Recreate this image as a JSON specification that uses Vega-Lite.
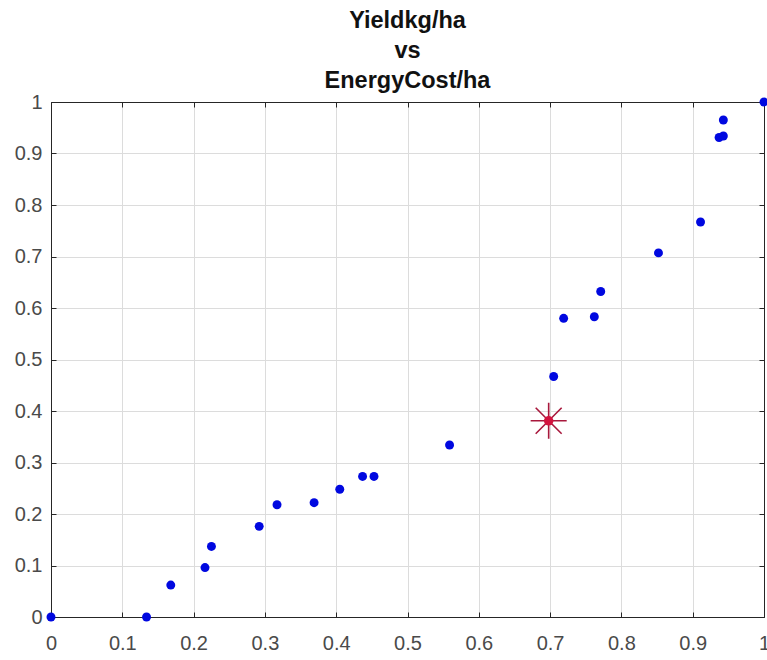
{
  "$schema": "https://vega.github.io/schema/vega-lite/v6.json",
  "width": 713,
  "height": 515,
  "autosize": {"type": "none"},
  "padding": {"left": 51, "top": 102, "right": 3, "bottom": 43},
  "background": "white",
  "title": {
    "text": ["Yieldkg/ha", "vs", "EnergyCost/ha"],
    "font": "Liberation Sans",
    "fontSize": 23.5,
    "fontWeight": "bold",
    "color": "#111111",
    "lineHeight": 30,
    "anchor": "middle",
    "offset": 0
  },
  "config": {
    "view": {"stroke": "#262626", "strokeWidth": 1},
    "axis": {
      "grid": true,
      "gridColor": "#dcdcdc",
      "gridWidth": 1,
      "domainColor": "#262626",
      "tickColor": "#262626",
      "tickSize": -5,
      "labelFont": "Liberation Sans",
      "labelFontSize": 20,
      "labelColor": "#4a4a4a",
      "labelFlush": false,
      "labelExpr": "format(datum.value, '~g')",
      "title": null
    }
  },
  "datasets": {
    "pts": [
      {"cost": 0.0, "yield": 0.0},
      {"cost": 0.134, "yield": 0.0},
      {"cost": 0.168, "yield": 0.062},
      {"cost": 0.216, "yield": 0.096},
      {"cost": 0.225, "yield": 0.137},
      {"cost": 0.292, "yield": 0.176},
      {"cost": 0.317, "yield": 0.218},
      {"cost": 0.369, "yield": 0.222},
      {"cost": 0.405, "yield": 0.248},
      {"cost": 0.437, "yield": 0.273},
      {"cost": 0.453, "yield": 0.273},
      {"cost": 0.559, "yield": 0.334},
      {"cost": 0.705, "yield": 0.467},
      {"cost": 0.719, "yield": 0.580},
      {"cost": 0.762, "yield": 0.583},
      {"cost": 0.771, "yield": 0.632},
      {"cost": 0.852, "yield": 0.707},
      {"cost": 0.911, "yield": 0.767},
      {"cost": 0.937, "yield": 0.931},
      {"cost": 0.943, "yield": 0.934},
      {"cost": 0.943, "yield": 0.965},
      {"cost": 1.0, "yield": 1.0}
    ],
    "star": [
      {"cost": 0.698, "yield": 0.381}
    ]
  },
  "layer": [
    {
      "data": {"name": "pts"},
      "mark": {"type": "point", "filled": true, "shape": "circle", "size": 80, "color": "#0008e0", "opacity": 1, "clip": false},
      "encoding": {
        "x": {"field": "cost", "type": "quantitative", "scale": {"domain": [0, 1], "nice": false, "zero": false},
              "axis": {"orient": "bottom", "values": [0,0.1,0.2,0.3,0.4,0.5,0.6,0.7,0.8,0.9,1], "labelPadding": 21}},
        "y": {"field": "yield", "type": "quantitative", "scale": {"domain": [0, 1], "nice": false, "zero": false},
              "axis": {"orient": "left", "values": [0,0.1,0.2,0.3,0.4,0.5,0.6,0.7,0.8,0.9,1], "labelPadding": 14}}
      }
    },
    {
      "data": {"name": "star"},
      "layer": [
        {
          "mark": {"type": "point", "filled": false, "shape": "M-1,0L1,0M0,-1L0,1M-0.72,-0.72L0.72,0.72M-0.72,0.72L0.72,-0.72", "size": 1300, "stroke": "#a8183c", "strokeWidth": 1.6, "opacity": 1, "clip": false},
          "encoding": {
            "x": {"field": "cost", "type": "quantitative", "axis": {"orient": "top", "labels": false, "grid": false, "values": [0,0.1,0.2,0.3,0.4,0.5,0.6,0.7,0.8,0.9,1]}},
            "y": {"field": "yield", "type": "quantitative", "axis": {"orient": "right", "labels": false, "grid": false, "values": [0,0.1,0.2,0.3,0.4,0.5,0.6,0.7,0.8,0.9,1]}}
          }
        },
        {
          "mark": {"type": "point", "filled": true, "shape": "circle", "size": 90, "color": "#d3133f", "opacity": 1, "clip": false},
          "encoding": {
            "x": {"field": "cost", "type": "quantitative"},
            "y": {"field": "yield", "type": "quantitative"}
          }
        }
      ]
    }
  ],
  "resolve": {"axis": {"x": "independent", "y": "independent"}}
}
